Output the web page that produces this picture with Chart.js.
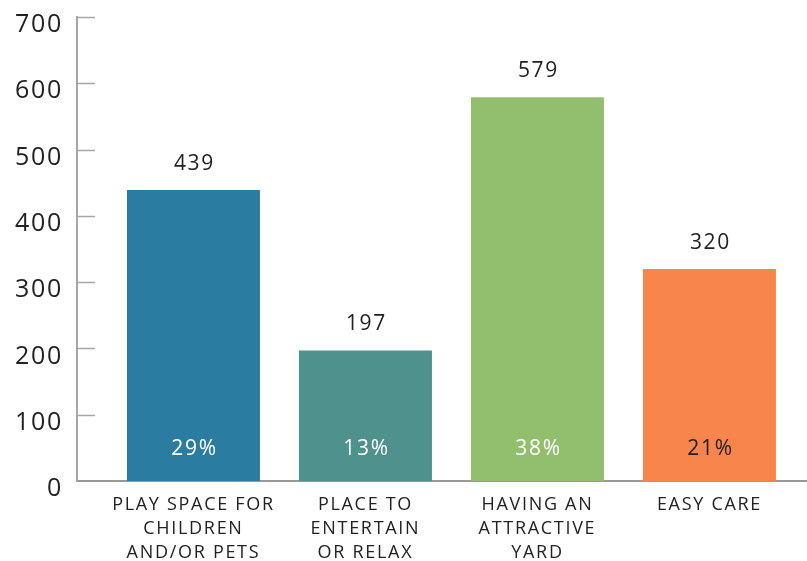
<!DOCTYPE html>
<html><head><meta charset="utf-8">
<script src="https://cdn.jsdelivr.net/npm/chart.js@4"></script>
<style>html,body{margin:0;padding:0;background:#fff}#wrap{width:807px;height:561px}</style>
</head><body><div id="wrap"><canvas id="c" width="807" height="561"></canvas></div>
<script>
const categories = ["PLAY SPACE FOR CHILDREN AND/OR PETS", "PLACE TO ENTERTAIN OR RELAX", "HAVING AN ATTRACTIVE YARD", "EASY CARE"];
const categoryLabelLines = [["PLAY SPACE FOR","CHILDREN","AND/OR PETS"],["PLACE TO","ENTERTAIN","OR RELAX"],["HAVING AN","ATTRACTIVE","YARD"],["EASY CARE"]];
const values = [439, 197, 579, 320];
const percentages = ["29%", "13%", "38%", "21%"];
const barColors = ["#2a7ca1", "#4f918c", "#92bf6e", "#f8854b"];
const percentColors = ["#ffffff", "#ffffff", "#ffffff", "#222222"];
const yMin = 0, yMax = 700, yStep = 100;

const FONT = '"Open Sans", sans-serif';

const spacing = {
  id: 'spacing',
  beforeDraw(chart) { chart.ctx.letterSpacing = '1.7px'; }
};

const decor = {
  id: 'decor',
  afterDatasetsDraw(chart) {
    const ctx = chart.ctx, y = chart.scales.y, meta = chart.getDatasetMeta(0);
    ctx.save();
    ctx.strokeStyle = '#a6a6a6'; ctx.lineWidth = 1.5;
    y.ticks.forEach(t => {
      if (t.value === 0) return;
      const py = Math.round(y.getPixelForValue(t.value)) + 0.5;
      ctx.beginPath(); ctx.moveTo(y.right, py); ctx.lineTo(y.right + 18, py); ctx.stroke();
    });
    const base = y.getPixelForValue(0);
    ctx.textAlign = 'center'; ctx.textBaseline = 'middle';
    ctx.font = '21px ' + FONT;
    meta.data.forEach((bar, i) => {
      ctx.fillStyle = '#222';
      ctx.fillText(String(values[i]), bar.x + 1, bar.y - 26);
      ctx.fillStyle = percentColors[i];
      ctx.fillText(percentages[i], bar.x + 1, base - 32);
    });
    ctx.restore();
  }
};

new Chart(document.getElementById('c'), {
  type: 'bar',
  data: {
    datasets: [{
      data: values.map((v, i) => ({x: i, y: v})),
      backgroundColor: barColors,
      borderWidth: 0,
      categoryPercentage: 1,
      barPercentage: 0.773
    }]
  },
  options: {
    responsive: false,
    devicePixelRatio: 1,
    animation: false,
    layout: {padding: {top: 17, right: 0, left: 0, bottom: 0}},
    plugins: {legend: {display: false}, tooltip: {enabled: false}},
    scales: {
      x: {
        type: 'linear',
        offset: false,
        min: -0.677, max: 3.567,
        grid: {display: false, drawTicks: false},
        border: {display: true, color: '#999', width: 2},
        afterFit(s) { s.height = 80; },
        ticks: {
          stepSize: 1, includeBounds: false, autoSkip: false, maxRotation: 0, minRotation: 0,
          padding: 12, color: '#222',
          font: {family: FONT, size: 18, lineHeight: 1.333},
          callback: v => (Number.isInteger(v) && categoryLabelLines[v]) ? categoryLabelLines[v] : ''
        }
      },
      y: {
        min: yMin, max: yMax,
        grid: {display: false, drawTicks: false},
        border: {display: true, color: '#a6a6a6', width: 2},
        afterFit(s) { s.width = 77; },
        ticks: {stepSize: yStep, padding: 14, labelOffset: 8, color: '#222', font: {family: FONT, size: 25, lineHeight: 0.2}}
      }
    }
  },
  plugins: [spacing, decor]
});
</script></body></html>
